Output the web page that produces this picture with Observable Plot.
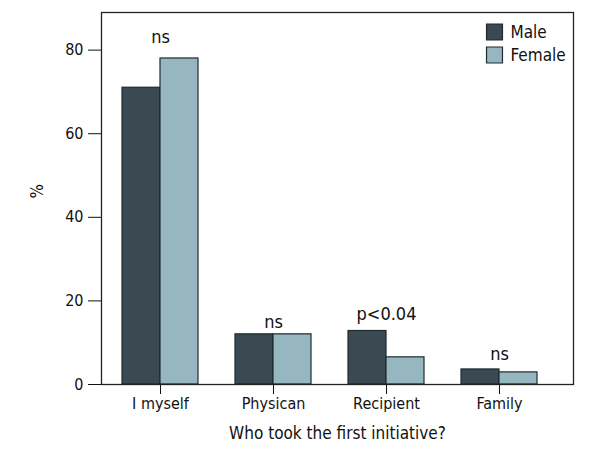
<!DOCTYPE html>
<html><head><meta charset="utf-8">
<script src="https://cdn.jsdelivr.net/npm/d3@7"></script>
<script src="https://cdn.jsdelivr.net/npm/@observablehq/plot@0.6"></script>
<style>
body{margin:0;background:#fff}
svg{font-family:"Liberation Sans Narrow","Arial Narrow","DejaVu Sans Condensed","Roboto",sans-serif}
</style>
</head><body><div id="chart"></div>
<script>
const categories = ["I myself", "Physican", "Recipient", "Family"];
const series = ["Male", "Female"];
const maleValues = [71, 12, 12.8, 3.6];
const femaleValues = [78, 12, 6.5, 2.9];
const significance = ["ns", "ns", "p<0.04", "ns"];
const labelHeights = [81.7, 13.5, 15.4, 5.8];
const yTicks = [0, 20, 40, 60, 80];
const colors = ["#3b4a52", "#97b7c0"];
const xTitle = "Who took the first initiative?";
const yTitle = "%";

const rows = categories.flatMap((c, i) => [
  {category: c, sex: series[0], value: maleValues[i]},
  {category: c, sex: series[1], value: femaleValues[i]}
]);
const notes = categories.map((c, i) => ({category: c, label: significance[i], y: labelHeights[i]}));
const ink = "#1e2a2f";

const legendMarks = series.flatMap((s, i) => [
  Plot.dot([s], {frameAnchor: "top-right", dx: -79, dy: 19.5 + 23 * i, symbol: "square", r: 9,
    fill: d => d, stroke: ink, strokeWidth: 1.2}),
  Plot.text([s], {frameAnchor: "top-right", dx: -63, dy: 20 + 23 * i, text: d => d, textAnchor: "start",
    lineAnchor: "middle", fontSize: 17, fill: "#111"})
]);

const plot = Plot.plot({
  width: 600,
  height: 460,
  marginLeft: 101,
  marginRight: 27,
  marginTop: 12,
  marginBottom: 76,
  style: {fontSize: "16px", color: "#111", background: "#fff"},
  x: {domain: categories, range: [103.5, 555.5], paddingInner: 0.327, paddingOuter: 0.1635,
      tickSize: 10, tickPadding: 3, label: null},
  y: {domain: [0, 89], ticks: yTicks, tickSize: 13, tickPadding: 5, label: null},
  color: {domain: series, range: colors},
  marks: [
    Plot.barY(rows.filter(d => d.sex === series[0]), {x: "category", y: "value", fill: "sex", stroke: ink, strokeWidth: 1.2, insetRight: 38}),
    Plot.barY(rows.filter(d => d.sex === series[1]), {x: "category", y: "value", fill: "sex", stroke: ink, strokeWidth: 1.2, insetLeft: 38}),
    Plot.text(notes, {x: "category", y: "y", text: "label", lineAnchor: "bottom", fontSize: 18, fill: "#111"}),
    Plot.frame({stroke: "#222", strokeWidth: 1.3}),
    ...legendMarks,
    Plot.text([xTitle], {frameAnchor: "bottom", dy: 49.5, lineAnchor: "middle", text: d => d, fontSize: 17, fill: "#111"}),
    Plot.text([yTitle], {frameAnchor: "left", dx: -64, rotate: -90, text: d => d, fontSize: 17, fill: "#111"})
  ]
});
document.getElementById("chart").appendChild(plot);
</script>
</body></html>
